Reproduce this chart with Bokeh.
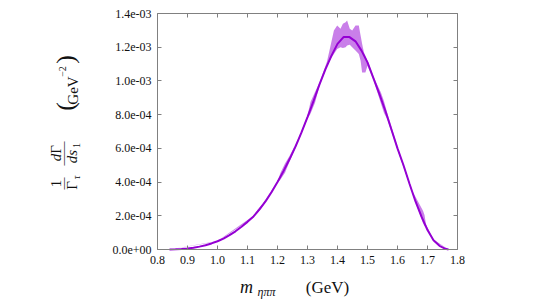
import math
import numpy as np
from bokeh.plotting import figure
from bokeh.models import Label, LinearAxis, FixedTicker, Range1d
from bokeh.embed import file_html
from bokeh.resources import INLINE

# ---- data (rate values in units of 1e-4 GeV^-2) ----
mass = [0.84, 0.86, 0.88, 0.90, 0.92, 0.94, 0.96, 0.98, 1.00, 1.02, 1.04, 1.06, 1.08,
        1.10, 1.12, 1.14, 1.16, 1.18, 1.20, 1.22, 1.24, 1.26, 1.28, 1.30, 1.32, 1.34,
        1.36, 1.38, 1.40, 1.42, 1.44, 1.46, 1.48, 1.50, 1.52, 1.54, 1.56, 1.58, 1.60,
        1.62, 1.64, 1.66, 1.68, 1.70, 1.72, 1.74, 1.76, 1.77]
rate = [0.0, 0.01, 0.03, 0.06, 0.10, 0.17, 0.25, 0.36, 0.49, 0.65, 0.85, 1.08, 1.35,
        1.64, 1.96, 2.38, 2.85, 3.4, 4.0, 4.65, 5.35, 6.1, 6.95, 7.85, 8.8, 9.8,
        10.7, 11.5, 12.2, 12.6, 12.6, 12.35, 11.8, 11.1, 10.15, 9.2, 8.2, 7.1, 6.0,
        5.0, 3.9, 2.85, 1.95, 1.15, 0.55, 0.22, 0.04, 0.0]

band_mass = [0.84, 1.00, 1.12, 1.135, 1.15, 1.20, 1.21, 1.225, 1.24, 1.27, 1.30, 1.31,
             1.325, 1.34, 1.365, 1.377, 1.388, 1.399, 1.41, 1.418, 1.427, 1.432, 1.441,
             1.449, 1.46, 1.471, 1.477, 1.482, 1.488, 1.493, 1.50, 1.52, 1.545, 1.555,
             1.565, 1.60, 1.65, 1.685, 1.69, 1.695, 1.72, 1.77]
band_low = [0.0, 0.47, 1.9, 2.2, 2.55, 3.95, 4.15, 4.55, 5.2, 6.45, 7.75, 8.05,
            8.7, 9.7, 10.85, 11.3, 11.6, 11.9, 12.0, 11.95, 12.0, 12.1, 12.15,
            12.0, 11.8, 11.6, 11.2, 10.5, 10.5, 10.5, 10.9, 10.05, 8.65, 8.1,
            7.75, 5.9, 3.3, 1.55, 1.4, 1.3, 0.5, 0.0]
band_high = [0.0, 0.51, 2.0, 2.4, 2.7, 4.05, 4.55, 5.1, 5.55, 6.6, 7.95, 8.75,
             9.35, 9.9, 11.15, 12.1, 12.99, 13.29, 13.09, 13.39, 13.48, 13.58, 13.09,
             12.99, 13.29, 13.29, 12.69, 12.2, 11.7, 11.5, 11.2, 10.25, 9.3, 8.8,
             8.15, 6.1, 3.45, 2.3, 2.05, 1.5, 0.6, 0.0]

x_ticks = [0.8, 0.9, 1.0, 1.1, 1.2, 1.3, 1.4, 1.5, 1.6, 1.7, 1.8]
x_tick_labels = ["0.8", "0.9", "1.0", "1.1", "1.2", "1.3", "1.4", "1.5", "1.6", "1.7", "1.8"]
y_ticks = [0.0, 2e-4, 4e-4, 6e-4, 8e-4, 1.0e-3, 1.2e-3, 1.4e-3]
y_tick_labels = ["0.0e+00", "2.0e-04", "4.0e-04", "6.0e-04", "8.0e-04", "1.0e-03", "1.2e-03", "1.4e-03"]

SCALE = 1e-4
FONT = "Liberation Serif"
AXIS_COLOR = "#808080"
PURPLE = "#9400d3"

# canvas size and where the axes box should sit on it (pixels)
W, H = 536, 301
BOX_L, BOX_R, BOX_T, BOX_B = 157, 457, 13, 249

x0, x1 = x_ticks[0], x_ticks[-1]
y0, y1 = y_ticks[0], y_ticks[-1]
xs = (x1 - x0) / (BOX_R - BOX_L)
ys = (y1 - y0) / (BOX_B - BOX_T)
x_range = Range1d(x0 - BOX_L * xs, x0 + (W - BOX_L) * xs)
y_range = Range1d(y0 - (H - BOX_B) * ys, y1 + BOX_T * ys)

p = figure(width=W, height=H, x_range=x_range, y_range=y_range,
           output_backend="svg", toolbar_location=None,
           min_border=0, min_border_left=0, min_border_right=0,
           min_border_top=0, min_border_bottom=0)
p.grid.visible = False
p.outline_line_color = None
p.background_fill_color = "white"
p.border_fill_color = "white"

p.varea(x=band_mass, y1=np.array(band_low) * SCALE, y2=np.array(band_high) * SCALE,
        fill_color=PURPLE, fill_alpha=0.5)
p.line(mass, np.array(rate) * SCALE, line_color=PURPLE, line_width=2)


def style(ax, ticks, labels, loc, show_labels=True):
    ax.ticker = FixedTicker(ticks=ticks)
    ax.fixed_location = loc
    ax.bounds = (ticks[0], ticks[-1])
    ax.axis_line_color = AXIS_COLOR
    ax.major_tick_line_color = AXIS_COLOR
    ax.major_tick_in = 4
    ax.major_tick_out = 0
    ax.minor_tick_line_color = None
    ax.major_label_text_font = FONT
    if show_labels:
        ax.major_label_overrides = {t: l for t, l in zip(ticks, labels)}
        ax.major_label_text_font_size = "12px"
        ax.major_label_text_color = "#111111"
        ax.major_label_standoff = 6
    else:
        ax.major_label_text_font_size = "1px"
        ax.major_label_text_color = None
        ax.major_label_standoff = 0


style(p.xaxis[0], x_ticks, x_tick_labels, y0)
style(p.yaxis[0], y_ticks, y_tick_labels, x0)
top = LinearAxis()
style(top, x_ticks, x_tick_labels, y1, show_labels=False)
p.add_layout(top, "above")
right = LinearAxis()
style(right, y_ticks, y_tick_labels, x1, show_labels=False)
p.add_layout(right, "right")


def lab(px, py, text, size, italic=False, angle=0.0):
    p.add_layout(Label(x=px, y=H - py, x_units="screen", y_units="screen",
                       text=text, angle=angle, text_align="center", text_baseline="middle",
                       text_font=FONT, text_font_size=f"{size}px",
                       text_font_style="italic" if italic else "normal",
                       text_color="#111111"))


R = math.pi / 2
# y-axis title (rotated)
lab(55, 183, "1", 15, angle=R)
lab(62, 183, "—", 12, angle=R)
lab(71, 185, "Γ", 15, angle=R)
lab(76, 177, "τ", 10, italic=True, angle=R)
lab(55, 157, "d", 15, italic=True, angle=R)
lab(55, 149, "Γ", 15, angle=R)
lab(62, 153, "——", 12, angle=R)
lab(71, 156, "ds", 15, italic=True, angle=R)
lab(76, 145, "1", 10, angle=R)
lab(65, 106, "(", 26, angle=R)
lab(72, 90, "GeV", 15, angle=R)
lab(62, 71, "−2", 10, angle=R)
lab(65, 59, ")", 26, angle=R)
# x-axis title
lab(246, 286, "m", 18, italic=True)
lab(266, 291, "ηππ", 12, italic=True)
lab(327, 287, "(GeV)", 17)

open("out.html", "w").write(file_html(p, INLINE))
